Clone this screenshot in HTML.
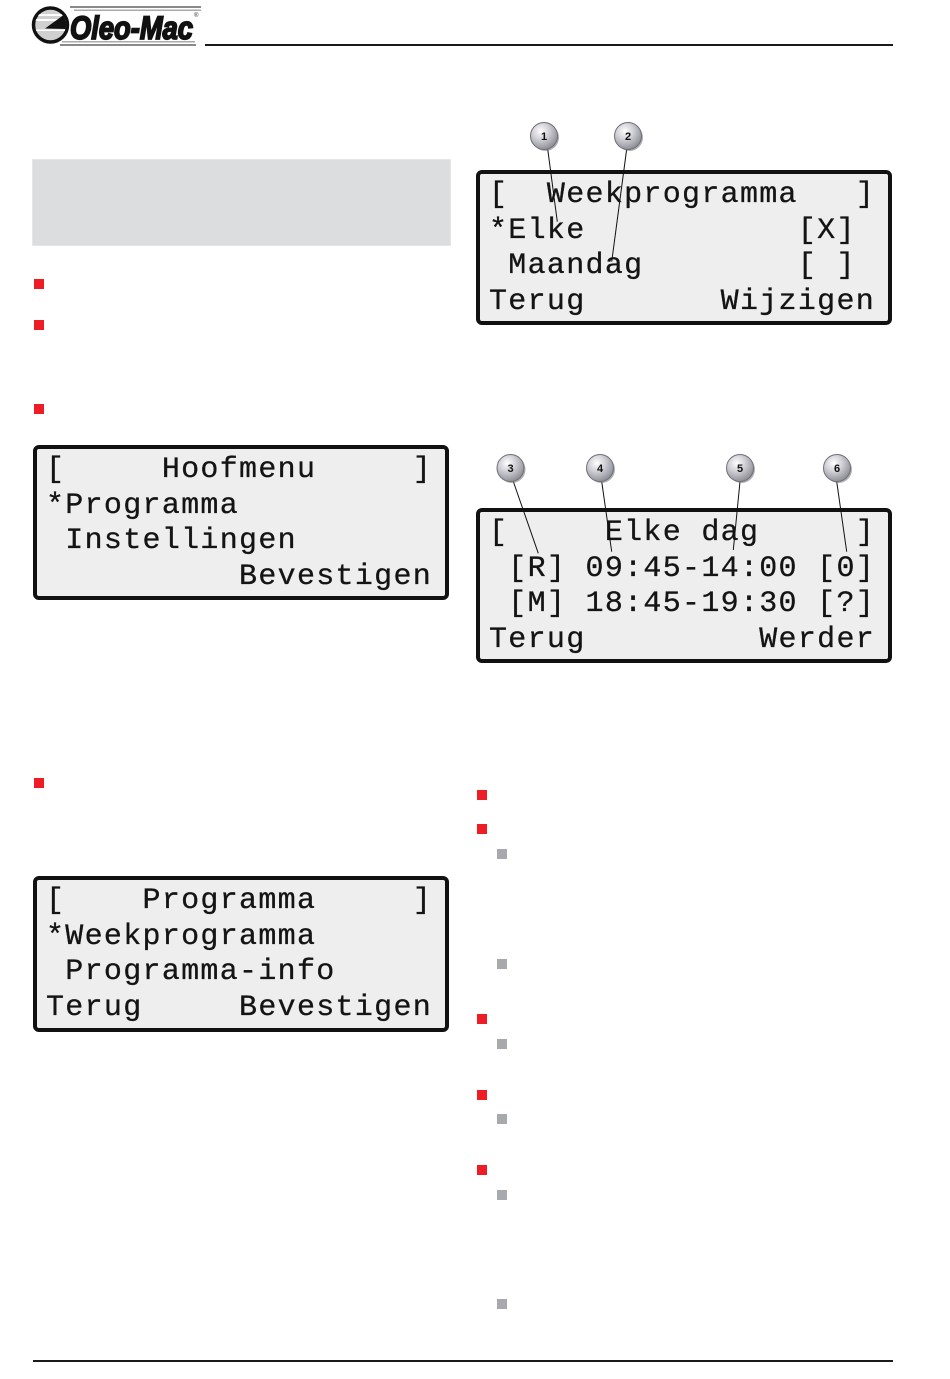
<!DOCTYPE html>
<html>
<head>
<meta charset="utf-8">
<style>
  html,body{margin:0;padding:0;background:#fff;}
  body{width:950px;height:1379px;position:relative;overflow:hidden;font-family:"Liberation Sans",sans-serif;}
  .abs{position:absolute;}
  .lcd{position:absolute;box-sizing:border-box;border:4px solid #111;border-radius:6px;background:#efeeef;}
  .row{position:absolute;white-space:pre;font-family:"Liberation Mono",monospace;font-size:30px;line-height:30px;letter-spacing:1.3px;color:#141414;margin:0;-webkit-text-stroke:0.3px #141414;}
  .red{position:absolute;width:10px;height:10px;background:#ee1c25;}
  .gray{position:absolute;width:10px;height:10px;background:#a7a9ac;}
</style>
</head>
<body>

<!-- header logo -->
<svg class="abs" style="left:0;top:0" width="950" height="60" viewBox="0 0 950 60">
  <defs>
    <clipPath id="cc"><circle cx="50.5" cy="25" r="15.5"/></clipPath>
  </defs>
  <!-- speed stripes -->
  <rect x="70" y="6" width="131" height="2" fill="#8a8a8a"/>
  <rect x="74" y="9.5" width="127" height="1.5" fill="#aaaaaa"/>
  <rect x="62" y="41" width="133" height="1.5" fill="#aaaaaa"/>
  <rect x="60" y="44" width="136" height="2" fill="#8a8a8a"/>
  <!-- circle emblem -->
  <circle cx="50.5" cy="25" r="17" fill="#d0d0d0" stroke="#111" stroke-width="3.5"/>
  <g clip-path="url(#cc)">
    <rect x="30" y="14" width="40" height="2" fill="#fff"/>
    <rect x="30" y="19" width="40" height="2" fill="#fff"/>
    <polygon points="45,28.5 69,11 69,29" fill="#111"/>
    <rect x="30" y="29.5" width="40" height="1.5" fill="#fff"/>
  </g>
  <text x="70" y="39" font-family="Liberation Sans, sans-serif" font-weight="bold" font-style="italic" font-size="32" textLength="123" lengthAdjust="spacingAndGlyphs" fill="#111" stroke="#111" stroke-width="1.8">Oleo-Mac</text>
  <text x="194" y="17" font-family="Liberation Sans, sans-serif" font-size="6" fill="#333">®</text>
</svg>
<div class="abs" style="left:205px;top:44px;width:688px;height:2px;background:#1a1a1a;"></div>

<!-- gray info box -->
<div class="abs" style="left:32px;top:159px;width:419px;height:87px;background:#dcdddf;box-sizing:border-box;border:1px solid #e6e6e8;"></div>

<!-- left red bullets -->
<div class="red" style="left:34px;top:279px;"></div>
<div class="red" style="left:34px;top:320px;"></div>
<div class="red" style="left:34px;top:404px;"></div>
<div class="red" style="left:34px;top:778px;"></div>

<!-- LCD C: Hoofmenu -->
<div class="lcd" style="left:33px;top:445px;width:416px;height:155px;"></div>
<div class="row" style="left:46px;top:455px;">[     Hoofmenu     ]</div>
<div class="row" style="left:46px;top:490.5px;">*Programma</div>
<div class="row" style="left:46px;top:526px;"> Instellingen</div>
<div class="row" style="left:46px;top:561.5px;">          Bevestigen</div>

<!-- LCD D: Programma -->
<div class="lcd" style="left:33px;top:876px;width:416px;height:156px;"></div>
<div class="row" style="left:46px;top:886px;">[    Programma     ]</div>
<div class="row" style="left:46px;top:921.5px;">*Weekprogramma</div>
<div class="row" style="left:46px;top:957px;"> Programma-info</div>
<div class="row" style="left:46px;top:992.5px;">Terug     Bevestigen</div>

<!-- LCD A: Weekprogramma -->
<div class="lcd" style="left:476px;top:170px;width:416px;height:155px;"></div>
<div class="row" style="left:489px;top:180px;">[  Weekprogramma   ]</div>
<div class="row" style="left:489px;top:215.5px;">*Elke           [X] </div>
<div class="row" style="left:489px;top:251px;"> Maandag        [ ] </div>
<div class="row" style="left:489px;top:286.5px;">Terug       Wijzigen</div>

<!-- LCD B: Elke dag -->
<div class="lcd" style="left:476px;top:508px;width:416px;height:155px;"></div>
<div class="row" style="left:489px;top:518px;">[     Elke dag     ]</div>
<div class="row" style="left:489px;top:553.5px;"> [R] 09:45-14:00 [0]</div>
<div class="row" style="left:489px;top:589px;"> [M] 18:45-19:30 [?]</div>
<div class="row" style="left:489px;top:624.5px;">Terug         Werder</div>

<!-- callouts -->
<svg class="abs" style="left:0;top:0" width="950" height="700" viewBox="0 0 950 700">
  <defs>
    <radialGradient id="bg" cx="0.38" cy="0.32" r="0.75">
      <stop offset="0" stop-color="#ffffff"/>
      <stop offset="0.4" stop-color="#d2d2d8"/>
      <stop offset="1" stop-color="#85858f"/>
    </radialGradient>
  </defs>
  <g stroke="#111" stroke-width="1" fill="none">
    <line x1="547.7" y1="149" x2="557.3" y2="221.7"/>
    <line x1="626.7" y1="149" x2="611.7" y2="261.7"/>
    <line x1="513.3" y1="481.5" x2="538.3" y2="553.3"/>
    <line x1="601.7" y1="481.5" x2="611.7" y2="551.7"/>
    <line x1="740" y1="481.5" x2="733.3" y2="550"/>
    <line x1="836.7" y1="481.5" x2="846.7" y2="551.7"/>
  </g>
  <g font-family="Liberation Sans, sans-serif" font-weight="bold" font-size="11" text-anchor="middle" fill="#111">
    <circle cx="545.5" cy="137.5" r="13.5" fill="#7a7a7a" opacity="0.6"/>
    <circle cx="544" cy="136" r="13.5" fill="url(#bg)" stroke="#6f6f77" stroke-width="1"/>
    <text x="544" y="140">1</text>

    <circle cx="629.5" cy="137.5" r="13.5" fill="#7a7a7a" opacity="0.6"/>
    <circle cx="628" cy="136" r="13.5" fill="url(#bg)" stroke="#6f6f77" stroke-width="1"/>
    <text x="628" y="140">2</text>

    <circle cx="512" cy="469.5" r="13.5" fill="#7a7a7a" opacity="0.6"/>
    <circle cx="510.5" cy="468" r="13.5" fill="url(#bg)" stroke="#6f6f77" stroke-width="1"/>
    <text x="510.5" y="472">3</text>

    <circle cx="601.5" cy="469.5" r="13.5" fill="#7a7a7a" opacity="0.6"/>
    <circle cx="600" cy="468" r="13.5" fill="url(#bg)" stroke="#6f6f77" stroke-width="1"/>
    <text x="600" y="472">4</text>

    <circle cx="741.5" cy="469.5" r="13.5" fill="#7a7a7a" opacity="0.6"/>
    <circle cx="740" cy="468" r="13.5" fill="url(#bg)" stroke="#6f6f77" stroke-width="1"/>
    <text x="740" y="472">5</text>

    <circle cx="838.5" cy="469.5" r="13.5" fill="#7a7a7a" opacity="0.6"/>
    <circle cx="837" cy="468" r="13.5" fill="url(#bg)" stroke="#6f6f77" stroke-width="1"/>
    <text x="837" y="472">6</text>
  </g>
</svg>

<!-- right bullets -->
<div class="red" style="left:477px;top:790px;"></div>
<div class="red" style="left:477px;top:824px;"></div>
<div class="gray" style="left:497px;top:849px;"></div>
<div class="gray" style="left:497px;top:959px;"></div>
<div class="red" style="left:477px;top:1014px;"></div>
<div class="gray" style="left:497px;top:1039px;"></div>
<div class="red" style="left:477px;top:1090px;"></div>
<div class="gray" style="left:497px;top:1114px;"></div>
<div class="red" style="left:477px;top:1165px;"></div>
<div class="gray" style="left:497px;top:1190px;"></div>
<div class="gray" style="left:497px;top:1299px;"></div>

<!-- footer line -->
<div class="abs" style="left:33px;top:1360px;width:860px;height:2px;background:#1a1a1a;"></div>

</body>
</html>
